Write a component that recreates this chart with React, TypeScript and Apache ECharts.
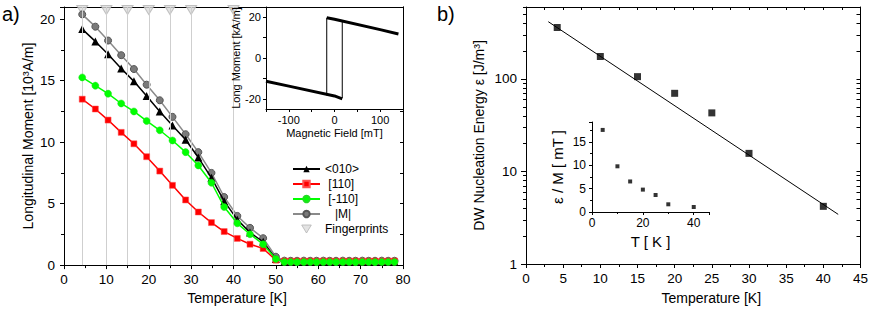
import React, { useEffect, useRef } from "react";
import * as echarts from "echarts";

// ---------- Panel a) : longitudinal moment vs temperature ----------
const temps = [4.3, 7.4, 10.4, 13.5, 16.5, 19.5, 22.6, 25.6, 28.7, 31.7, 34.8, 37.8, 40.9, 43.9, 47.0, 50.0,
  52.0, 53.5, 55.0, 56.6, 58.1, 59.6, 61.2, 62.7, 64.2, 65.8, 67.3, 68.8, 70.4, 71.9, 73.4, 75.0, 76.5, 78.0];
const m010 = [19.2, 18.2, 17.15, 16.0, 14.95, 13.75, 12.5, 11.35, 10.2, 8.75, 7.1, 5.2, 3.7, 2.65, 1.9, 0.5,
  0.28, 0.27, 0.28, 0.27, 0.28, 0.28, 0.27, 0.28, 0.27, 0.28, 0.28, 0.27, 0.28, 0.27, 0.28, 0.28, 0.27, 0.28];
const m110 = [13.5, 12.7, 11.8, 10.8, 9.87, 8.82, 7.65, 6.49, 5.3, 4.32, 3.46, 2.73, 2.17, 1.7, 1.35, 0.4,
  0.33, 0.32, 0.33, 0.32, 0.33, 0.32, 0.33, 0.33, 0.32, 0.33, 0.32, 0.33, 0.32, 0.33, 0.33, 0.32, 0.33, 0.33];
const mM110 = [15.27, 14.6, 13.95, 13.15, 12.5, 11.73, 10.97, 10.14, 9.19, 8.11, 6.7, 4.73, 3.4, 2.51, 1.7, 0.5,
  0.25, 0.25, 0.24, 0.25, 0.25, 0.24, 0.25, 0.25, 0.24, 0.25, 0.25, 0.24, 0.25, 0.25, 0.24, 0.25, 0.25, 0.25];
const mAbs = [20.4, 19.4, 18.27, 17.08, 15.95, 14.68, 13.41, 12.06, 10.65, 9.19, 7.5, 5.54, 4.0, 3.03, 2.19, 0.68,
  0.36, 0.35, 0.35, 0.36, 0.35, 0.35, 0.36, 0.35, 0.35, 0.36, 0.35, 0.35, 0.36, 0.35, 0.35, 0.36, 0.35, 0.35];
const fingerprintT = [4.3, 10, 15, 20, 25, 30, 40];
const fingerprintMarkerLevel = 20.76;

// inset: hysteresis loop
const upperH = [140, 100, 0, -17];
const upperM = [11.8, 13.9, 19.0, 19.7];
const lowerH = [-150, -100, 0, 17];
const lowerM = [-11.4, -13.8, -18.6, -20.0];
const jumpDownH = [-17, -17];
const jumpDownM = [19.7, -18.4];
const jumpUpH = [17, 17];
const jumpUpM = [-19.6, 18.6];

// ---------- Panel b) : DW nucleation energy ----------
const nucT = [4.2, 10, 15, 20, 25, 30, 40];
const nucE = [360, 175, 106, 70, 43, 15.7, 4.2];
const fitT = [3, 42];
const fitE = [416, 3.44];
const ratioT = [4.2, 10, 15, 20, 25, 30, 40];
const ratioEM = [17.6, 9.8, 6.55, 4.8, 3.64, 1.65, 1.07];

const logMajor = [1, 10, 100];
const logMinor = [2, 3, 4, 5, 6, 7, 8, 9, 20, 30, 40, 50, 60, 70, 80, 90, 200, 300, 400, 500, 600];
const insetHLabels = [-100, 0, 100];
const insetHTicks = [-150, -100, -50, 0, 50, 100, 150];
const insetMLabels = [-20, 0, 20];
const insetMTicks = [-20, -10, 0, 10, 20];

const FONT = "Liberation Sans, Arial, sans-serif";
const zip = (a: number[], b: number[]) => a.map((v, i) => [v, b[i]]);
const DOWN_TRIANGLE = "path://M0,0 L12,0 L6,10 Z";

export default function App() {
  const ref = useRef<HTMLDivElement>(null);
  useEffect(() => {
    document.body.style.margin = "0";
    if (!ref.current) return;
    const chart = echarts.init(ref.current, null, { renderer: "svg" });
    const axisLine = { show: true, onZero: false, lineStyle: { color: "#000", width: 1 } };
    const txt = (size: number) => ({ color: "#000", fontFamily: FONT, fontSize: size });
    const legendPrefix: Record<string, string> = {
      "<010>": "",
      "[110]": "\u00a0",
      "[-110]": "\u00a0",
      "|M|": "\u00a0\u00a0\u00a0",
      Fingerprints: "",
    };
    const option: any = {
      animation: false,
      backgroundColor: "#fff",
      textStyle: { fontFamily: FONT },
      grid: [
        { left: 64, top: 7, width: 339, height: 259 },
        { left: 266, top: 7, width: 137, height: 102, show: true, backgroundColor: "#fff", borderWidth: 0, z: 5 },
        { left: 526, top: 7, width: 337, height: 260 },
        { left: 592, top: 122, width: 117, height: 90 },
      ],
      legend: {
        orient: "vertical",
        left: 287,
        top: 158,
        itemWidth: 27,
        itemHeight: 8,
        itemGap: 3,
        textStyle: txt(12),
        data: [
          "<010>",
          "[110]",
          "[-110]",
          "|M|",
          { name: "Fingerprints", icon: DOWN_TRIANGLE, itemStyle: { color: "#dcdcdc", borderColor: "#b4b4b4", borderWidth: 1 } },
        ],
        formatter: (n: string) => (legendPrefix[n] || "") + n,
      },
      graphic: [
        { type: "text", left: 2, top: 4, style: { text: "a)", font: `20px ${FONT}`, fill: "#000" } },
        { type: "text", left: 437, top: 4, style: { text: "b)", font: `20px ${FONT}`, fill: "#000" } },
      ],
      xAxis: [
        {
          gridIndex: 0, type: "value", min: 0, max: 80, interval: 10, position: "bottom",
          axisLine, splitLine: { show: false },
          axisTick: { show: true, length: 4, lineStyle: { color: "#000" } },
          minorTick: { show: true, splitNumber: 2, length: 3, lineStyle: { color: "#000" } },
          axisLabel: { ...txt(13.5), margin: 7 },
          name: "Temperature [K]", nameLocation: "middle", nameGap: 25,
          nameTextStyle: { ...txt(14), padding: [0, 0, 0, 7] },
        },
        {
          gridIndex: 0, type: "value", min: 0, max: 80, position: "top",
          axisLine, axisTick: { show: false }, axisLabel: { show: false }, splitLine: { show: false },
        },
        {
          gridIndex: 1, type: "value", min: -150, max: 150, position: "bottom",
          axisLine, splitLine: { show: false },
          axisTick: { show: true, length: 3, customValues: insetHTicks, lineStyle: { color: "#000" } },
          axisLabel: { ...txt(11), margin: 5, customValues: insetHLabels },
          name: "Magnetic Field [mT]", nameLocation: "middle", nameGap: 18,
          nameTextStyle: txt(11),
          z: 6,
        },
        {
          gridIndex: 1, type: "value", min: -150, max: 150, position: "top",
          axisLine, axisTick: { show: false }, axisLabel: { show: false }, splitLine: { show: false }, z: 6,
        },
        {
          gridIndex: 2, type: "value", min: 0, max: 45, interval: 5, position: "bottom",
          axisLine, splitLine: { show: false },
          axisTick: { show: true, length: 4, lineStyle: { color: "#000" } },
          minorTick: { show: true, splitNumber: 2, length: 3, lineStyle: { color: "#000" } },
          axisLabel: { ...txt(13.5), margin: 7 },
          name: "Temperature [K]", nameLocation: "middle", nameGap: 27,
          nameTextStyle: { ...txt(14), padding: [0, 0, 0, 36] },
        },
        {
          gridIndex: 2, type: "value", min: 0, max: 45, interval: 2.5, position: "top",
          axisLine, splitLine: { show: false },
          axisTick: { show: true, inside: true, length: 3, lineStyle: { color: "#000" } },
          axisLabel: { show: false },
        },
        {
          gridIndex: 3, type: "value", min: 0, max: 46, interval: 20, position: "bottom",
          axisLine, splitLine: { show: false },
          axisTick: { show: true, length: 3, lineStyle: { color: "#000" } },
          minorTick: { show: true, splitNumber: 2, length: 2, lineStyle: { color: "#000" } },
          axisLabel: { ...txt(12), margin: 5, formatter: (v: number) => (v % 20 === 0 ? String(v) : "") },
          name: "T [ K ]", nameLocation: "middle", nameGap: 22, nameTextStyle: txt(15),
        },
      ],
      yAxis: [
        {
          gridIndex: 0, type: "value", min: 0, max: 21, interval: 5, position: "left",
          axisLine, splitLine: { show: false },
          axisTick: { show: true, length: 4, lineStyle: { color: "#000" } },
          minorTick: { show: true, splitNumber: 2, length: 3, lineStyle: { color: "#000" } },
          axisLabel: { ...txt(13.5), margin: 9, formatter: (v: number) => (v % 5 === 0 ? String(v) : "") },
          name: "Longitudinal Moment [10³A/m]", nameLocation: "middle", nameGap: 29, nameTextStyle: txt(14),
        },
        {
          gridIndex: 0, type: "value", min: 0, max: 21, interval: 2.5, position: "right",
          axisLine, splitLine: { show: false },
          axisTick: { show: true, inside: true, length: 3, lineStyle: { color: "#000" } },
          axisLabel: { show: false },
        },
        {
          gridIndex: 1, type: "value", min: -25, max: 25, position: "left",
          axisLine, splitLine: { show: false },
          axisTick: { show: true, length: 3, customValues: insetMTicks, lineStyle: { color: "#000" } },
          axisLabel: { ...txt(11), margin: 5, customValues: insetMLabels },
          name: "Long Moment [kA/m]", nameLocation: "middle", nameGap: 19, nameTextStyle: txt(11), z: 6,
        },
        {
          gridIndex: 1, type: "value", min: -25, max: 25, position: "right",
          axisLine, axisTick: { show: false }, axisLabel: { show: false }, splitLine: { show: false }, z: 6,
        },
        {
          gridIndex: 2, type: "log", logBase: 10, min: 1, max: 600, position: "left",
          axisLine, splitLine: { show: false },
          axisTick: { show: true, length: 5, customValues: logMajor, lineStyle: { color: "#000" } },
          axisLabel: { ...txt(13.5), margin: 9, customValues: logMajor },
          name: "DW Nucleation Energy ε [J/m³]", nameLocation: "middle", nameGap: 40, nameTextStyle: txt(14),
        },
        {
          gridIndex: 2, type: "log", logBase: 10, min: 1, max: 600, position: "left",
          axisLine: { show: false, onZero: false }, splitLine: { show: false },
          axisTick: { show: true, length: 3, customValues: logMinor, lineStyle: { color: "#000" } },
          axisLabel: { show: false },
        },
        {
          gridIndex: 2, type: "log", logBase: 10, min: 1, max: 600, position: "right",
          axisLine, splitLine: { show: false },
          axisTick: { show: true, inside: true, length: 4, customValues: logMajor.concat(logMinor), lineStyle: { color: "#000" } },
          axisLabel: { show: false },
        },
        {
          gridIndex: 3, type: "value", min: 0, max: 19.3, interval: 5, position: "left",
          axisLine, splitLine: { show: false },
          axisTick: { show: true, length: 3, lineStyle: { color: "#000" } },
          minorTick: { show: true, splitNumber: 2, length: 2, lineStyle: { color: "#000" } },
          axisLabel: { ...txt(12), margin: 6, formatter: (v: number) => (v % 5 === 0 ? String(v) : "") },
          name: "ε / M [ mT ]", nameLocation: "middle", nameGap: 27, nameTextStyle: txt(15),
        },
      ],
      series: [
        {
          name: "Fingerprints", type: "scatter", xAxisIndex: 0, yAxisIndex: 0, z: 1,
          symbol: DOWN_TRIANGLE, symbolSize: [11, 9],
          itemStyle: { color: "#dcdcdc", borderColor: "#b4b4b4", borderWidth: 1 },
          data: fingerprintT.map((t) => [t, fingerprintMarkerLevel]),
          markLine: {
            silent: true, symbol: ["none", "none"], label: { show: false },
            lineStyle: { color: "#cfcfcf", type: "solid", width: 1 },
            data: fingerprintT.map((t) => ({ xAxis: t })),
          },
        },
        {
          name: "|M|", type: "line", xAxisIndex: 0, yAxisIndex: 0, z: 3,
          data: zip(temps, mAbs), symbol: "circle", symbolSize: 7,
          lineStyle: { color: "#8a8a8a", width: 1.5 },
          itemStyle: { color: "#7a7a7a", borderColor: "#555", borderWidth: 1 },
        },
        {
          name: "<010>", type: "line", xAxisIndex: 0, yAxisIndex: 0, z: 4,
          data: zip(temps, m010), symbol: "triangle", symbolSize: 8,
          lineStyle: { color: "#000", width: 1.5 },
          itemStyle: { color: "#000" },
        },
        {
          name: "[110]", type: "line", xAxisIndex: 0, yAxisIndex: 0, z: 5,
          data: zip(temps, m110), symbol: "rect", symbolSize: 6,
          lineStyle: { color: "#ff0000", width: 1.5 },
          itemStyle: { color: "#ff0000", borderColor: "#ff5050", borderWidth: 0.5 },
        },
        {
          name: "[-110]", type: "line", xAxisIndex: 0, yAxisIndex: 0, z: 6,
          data: zip(temps, mM110), symbol: "circle", symbolSize: 7,
          lineStyle: { color: "#00ff00", width: 1.5 },
          itemStyle: { color: "#00ff00", borderColor: "#22dd22", borderWidth: 0.5 },
        },
        // inset hysteresis
        {
          type: "line", xAxisIndex: 2, yAxisIndex: 2, z: 7, symbol: "none",
          data: zip(upperH, upperM), lineStyle: { color: "#000", width: 3 },
        },
        {
          type: "line", xAxisIndex: 2, yAxisIndex: 2, z: 7, symbol: "none",
          data: zip(lowerH, lowerM), lineStyle: { color: "#000", width: 3 },
        },
        {
          type: "line", xAxisIndex: 2, yAxisIndex: 2, z: 7, symbol: "none",
          data: zip(jumpDownH, jumpDownM), lineStyle: { color: "#000", width: 1 },
        },
        {
          type: "line", xAxisIndex: 2, yAxisIndex: 2, z: 7, symbol: "none",
          data: zip(jumpUpH, jumpUpM), lineStyle: { color: "#000", width: 1 },
        },
        // panel b
        {
          type: "line", xAxisIndex: 4, yAxisIndex: 4, symbol: "none",
          data: zip(fitT, fitE), lineStyle: { color: "#000", width: 1 },
        },
        {
          type: "scatter", xAxisIndex: 4, yAxisIndex: 4, symbol: "rect", symbolSize: 7,
          data: zip(nucT, nucE), itemStyle: { color: "#000" },
        },
        {
          type: "scatter", xAxisIndex: 6, yAxisIndex: 7, symbol: "rect", symbolSize: 4,
          data: zip(ratioT, ratioEM), itemStyle: { color: "#000" },
        },
      ],
    };
    chart.setOption(option);
    return () => chart.dispose();
  }, []);
  return <div ref={ref} style={{ width: 871, height: 310 }} />;
}
